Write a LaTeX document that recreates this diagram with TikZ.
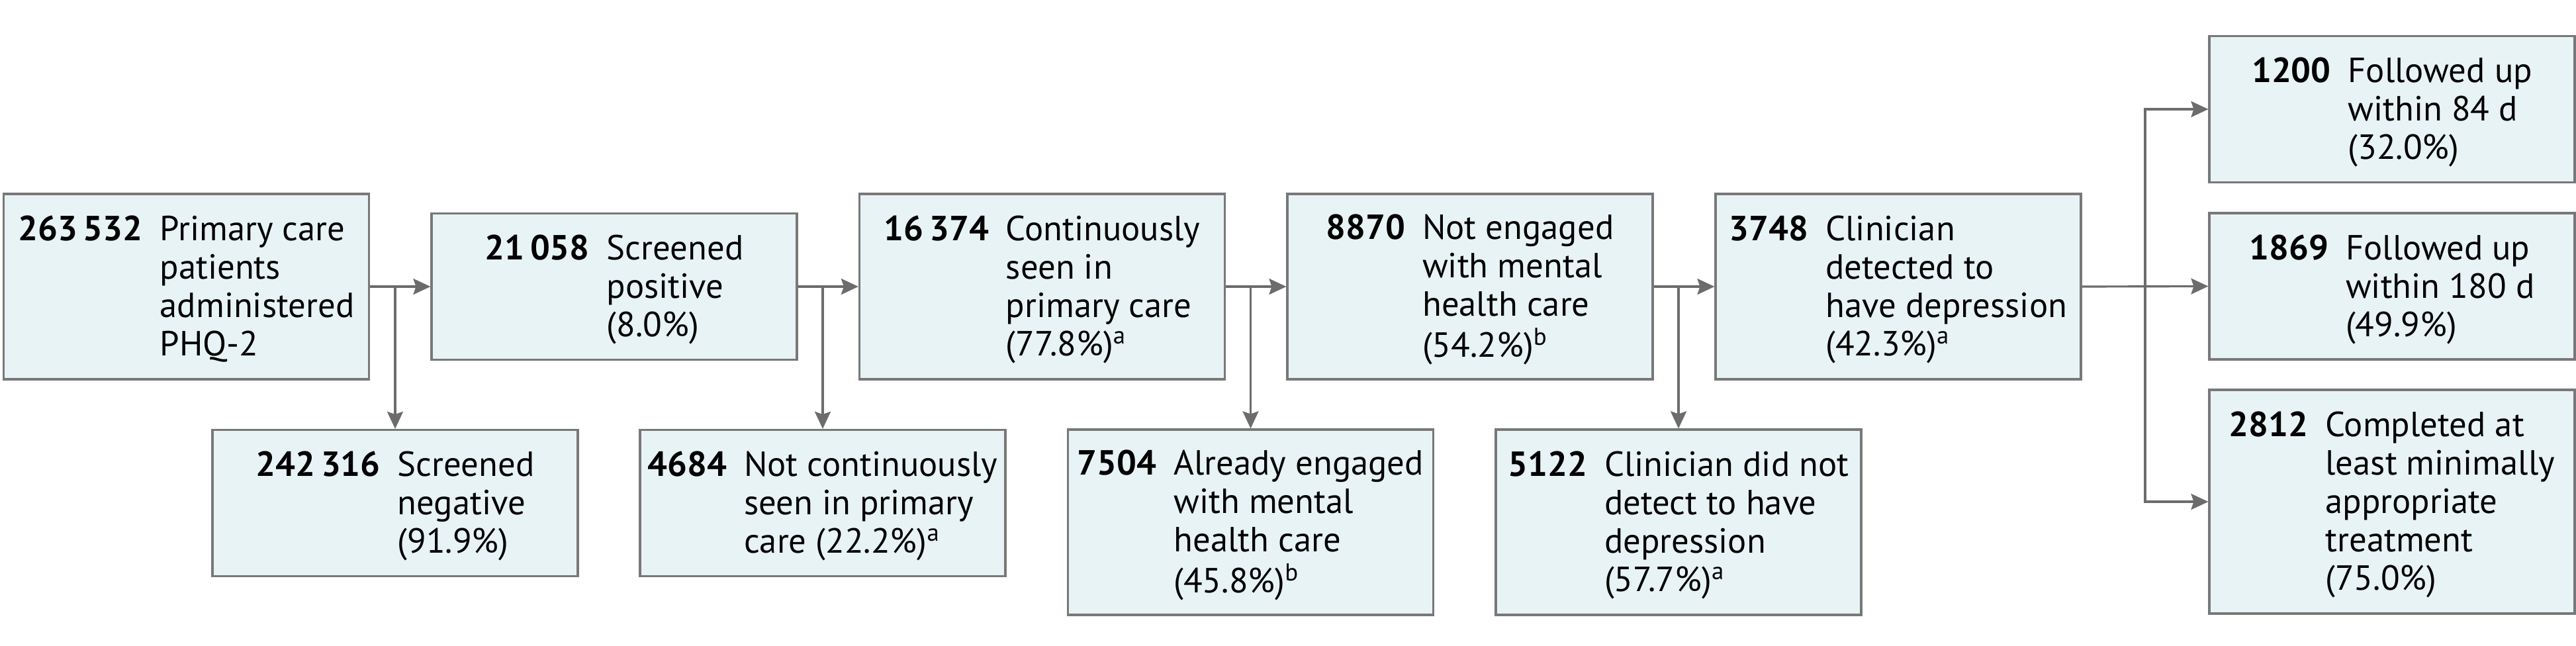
\documentclass[tikz,border=0pt]{standalone}
\usepackage{fontspec}
\setmainfont{PT Sans}
\usepackage{tikz}
\usetikzlibrary{arrows.meta, positioning, calc}
\definecolor{boxfill}{RGB}{232,243,245}
\definecolor{boxline}{RGB}{120,120,120}
\definecolor{arrowgray}{RGB}{108,108,108}
\newcommand{\countlabel}[2]{\raisebox{-0.06cm}[\height][\depth]{\textbf{#1}\hspace{0.26cm}\begin{tabular}[t]{@{}l@{}}#2\end{tabular}}}
\tikzset{
  flowbox/.style={rectangle, draw=boxline, fill=boxfill,
    minimum width=5.52cm, inner sep=0pt, line width=0.9pt,
    font=\fontsize{15}{16.5}\selectfont},
  shortbox/.style={flowbox, minimum height=2.21cm},
  tallbox/.style={flowbox, minimum height=2.80cm},
  talltbox/.style={flowbox, minimum height=3.38cm},
  arrow/.style={-{Stealth[length=0.26cm, width=0.24cm, inset=0.04cm]}, line width=0.9pt, color=arrowgray},
  line/.style={line width=0.9pt, color=arrowgray}
}

\begin{document}
\begin{tikzpicture}
  \useasboundingbox (0,0) rectangle (38.92,-9.75);

  % Main row
  \node[tallbox]  (n1) at (2.815,-4.33) {\countlabel{263\,532}{Primary care\\patients\\administered\\PHQ-2}};
  \node[shortbox] (n2) at (9.28,-4.33)  {\countlabel{21\,058}{Screened\\positive\\(8.0\%)}};
  \node[tallbox]  (n3) at (15.745,-4.33) {\countlabel{16\,374}{Continuously\\seen in\\primary care\\(77.8\%)\textsuperscript{a}}};
  \node[tallbox]  (n4) at (22.21,-4.33) {\countlabel{8870}{Not engaged\\with mental\\health care\\(54.2\%)\textsuperscript{b}}};
  \node[tallbox]  (n5) at (28.68,-4.33) {\countlabel{3748}{Clinician\\detected to\\have depression\\(42.3\%)\textsuperscript{a}}};

  % Excluded at each step
  \node[shortbox] (d1) at (5.97,-7.60)   {\countlabel{242\,316}{Screened\\negative\\(91.9\%)}};
  \node[shortbox] (d2) at (12.43,-7.60)  {\countlabel{4684}{Not continuously\\seen in primary\\care (22.2\%)\textsuperscript{a}}};
  \node[tallbox]  (d3) at (18.895,-7.89) {\countlabel{7504}{Already engaged\\with mental\\health care\\(45.8\%)\textsuperscript{b}}};
  \node[tallbox]  (d4) at (25.36,-7.89)  {\countlabel{5122}{Clinician did not\\detect to have\\depression\\(57.7\%)\textsuperscript{a}}};

  % Outcomes
  \node[shortbox]  (r1) at (36.14,-1.65)  {\countlabel{1200}{Followed up\\within 84 d\\(32.0\%)}};
  \node[shortbox]  (r2) at (36.14,-4.325) {\countlabel{1869}{Followed up\\within 180 d\\(49.9\%)}};
  \node[talltbox] (r3) at (36.14,-7.58)  {\countlabel{2812}{Completed at\\least minimally\\appropriate\\treatment\\(75.0\%)}};

  % Arrows along the main row
  \draw[arrow] (n1.east) -- (n2.west);
  \draw[arrow] (n2.east) -- (n3.west);
  \draw[arrow] (n3.east) -- (n4.west);
  \draw[arrow] (n4.east) -- (n5.west);

  % Arrows down to the excluded boxes
  \draw[arrow] (n1.east -| d1.north) -- (d1.north);
  \draw[arrow] (n2.east -| d2.north) -- (d2.north);
  \draw[arrow] (n3.east -| d3.north) -- (d3.north);
  \draw[arrow] (n4.east -| d4.north) -- (d4.north);

  % Split to the outcomes
  \coordinate (split) at ($(n5.east)!0.5!(r2.west)$);
  \draw[arrow] (n5.east) -- (r2.west);
  \draw[arrow] (split) |- (r1.west);
  \draw[arrow] (split) |- (r3.west);
\end{tikzpicture}
\end{document}
